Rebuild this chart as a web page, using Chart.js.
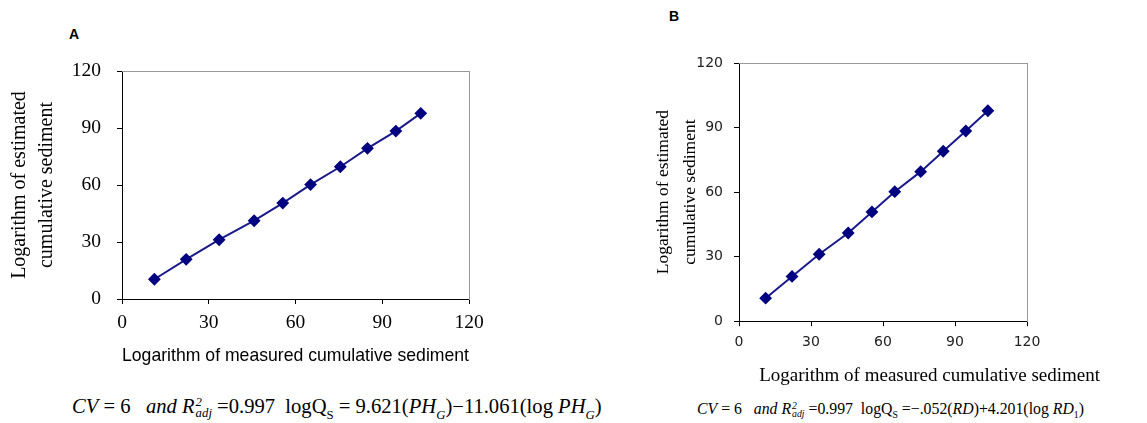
<!DOCTYPE html>
<html>
<head>
<meta charset="utf-8">
<script src="https://cdn.jsdelivr.net/npm/chart.js@4.4.0/dist/chart.umd.min.js"></script>
<style>
  body { margin: 0; background: #fff; width: 1147px; height: 423px; overflow: hidden; position: relative; }
  canvas { position: absolute; }
  #chartA { left: 0; top: 40px; }
  #chartB { left: 640px; top: 30px; }
  .panel { position: absolute; font: bold 14px "Liberation Sans", Arial, sans-serif; }
  .eq { position: absolute; font-family: "Liberation Serif", "Times New Roman", serif; white-space: nowrap; color: #000; }
  .eq i { font-style: italic; }
  .ss { display: inline-flex; flex-direction: column; vertical-align: middle; line-height: 0.9; font-size: 0.62em; margin-left: 1px; }
  .sb { font-size: 0.62em; position: relative; top: 0.45em; }
</style>
</head>
<body>
<div class="panel" style="left:69px; top:26px;">A</div>
<div class="panel" style="left:669px; top:8px;">B</div>
<canvas id="chartA" width="500" height="340"></canvas>
<canvas id="chartB" width="460" height="367"></canvas>

<div class="eq" style="left:72px; top:395px; font-size:20.6px;">
  <i>CV</i> = 6 &nbsp; <i>and R</i><span class="ss"><i>2</i><i>adj</i></span> =0.997 &nbsp;logQ<span class="sb">S</span> = 9.621(<i>PH</i><span class="sb"><i>G</i></span>)−11.061(log <i>PH</i><span class="sb"><i>G</i></span>)
</div>
<div class="eq" style="left:697px; top:400px; font-size:15.8px;">
  <i>CV</i> = 6 &nbsp; <i>and R</i><span class="ss"><i>2</i><i>adj</i></span> =0.997 &nbsp;logQ<span class="sb">S</span> =−.052(<i>RD</i>)+4.201(log <i>RD</i><span class="sb">1</span>)
</div>

<script>
const axisTicks = [0, 30, 60, 90, 120];

const measuredA = [11.2, 22.2, 33.6, 45.7, 55.6, 65.2, 75.5, 84.9, 94.7, 103.3];
const estimatedA = [10.4, 20.9, 31.2, 41.2, 50.5, 60.2, 69.6, 79.3, 88.4, 97.7];

const measuredB = [11.1, 22.1, 33.4, 45.5, 55.4, 64.9, 75.7, 85.1, 94.5, 103.7];
const estimatedB = [10.7, 20.8, 31.1, 41.0, 50.8, 60.2, 69.5, 79.0, 88.4, 97.8];

const xTitle = "Logarithm of measured cumulative sediment";
const yTitle = ["Logarithm of estimated", "cumulative sediment"];

const serif = "'Liberation Serif', 'Times New Roman', serif";
const sans = "'Liberation Sans', Arial, sans-serif";

function toPoints(xs, ys) {
  return xs.map((x, i) => ({ x: x, y: ys[i] }));
}

function lineSet(xs, ys) {
  return {
    data: toPoints(xs, ys),
    showLine: true,
    borderColor: "#1a1a8c",
    borderWidth: 2,
    pointStyle: "rectRot",
    pointRadius: 5,
    pointBackgroundColor: "#000080",
    pointBorderColor: "#000080"
  };
}

// fixed size for a scale box
function fitW(w) { return scale => { scale.width = w; }; }
function fitH(h) { return scale => { scale.height = h; }; }

function mainAxis(fontFamily, fontSize, color, pad) {
  return {
    type: "linear",
    min: 0,
    max: 120,
    afterBuildTicks: scale => { scale.ticks = axisTicks.map(v => ({ value: v })); },
    ticks: { font: { family: fontFamily, size: fontSize }, color: color, padding: pad },
    grid: { drawOnChartArea: false, tickLength: 5, color: "#000" },
    border: { color: "#000", width: 1 }
  };
}

function frameAxis(position, fit) {
  return {
    type: "linear",
    position: position,
    min: 0,
    max: 120,
    ticks: { display: false },
    grid: { display: false },
    border: { color: "#999", width: 1 },
    afterFit: fit
  };
}

// Chart A
const xA = mainAxis(serif, 19.5, "#000", 7);
xA.title = { display: true, text: xTitle, color: "#000", font: { family: sans, size: 19 }, padding: { top: 0, bottom: 13 } };
xA.afterFit = fitH(81);
const yA = mainAxis(serif, 19.5, "#000", 16);
yA.title = { display: true, text: yTitle, color: "#000", font: { family: serif, size: 20, lineHeight: 1.35 }, padding: { top: 6.5, bottom: 0 } };
yA.afterFit = fitW(122);

new Chart(document.getElementById("chartA"), {
  type: "scatter",
  data: { datasets: [lineSet(measuredA, estimatedA)] },
  options: {
    responsive: false,
    animation: false,
    devicePixelRatio: 1,
    layout: { padding: 0 },
    plugins: { legend: { display: false }, tooltip: { enabled: false } },
    scales: {
      x: xA,
      y: yA,
      x2: frameAxis("top", fitH(31)),
      y2: frameAxis("right", fitW(31))
    }
  }
});

// Chart B
const xB = mainAxis("'DejaVu Sans', sans-serif", 14, "#222", 8);
xB.afterFit = fitH(40);
const yB = mainAxis("'DejaVu Sans', sans-serif", 14, "#222", 11);
yB.title = { display: true, text: yTitle, color: "#000", font: { family: serif, size: 17.5, lineHeight: 1.54 }, padding: { top: 9.5, bottom: 0 } };
yB.afterFit = fitW(99);

new Chart(document.getElementById("chartB"), {
  type: "scatter",
  data: { datasets: [lineSet(measuredB, estimatedB)] },
  options: {
    responsive: false,
    animation: false,
    devicePixelRatio: 1,
    layout: { padding: 0 },
    plugins: {
      legend: { display: false },
      tooltip: { enabled: false },
      title: {
        display: true,
        position: "bottom",
        align: "end",
        text: xTitle,
        color: "#000",
        font: { family: serif, size: 19, weight: "normal" },
        padding: { top: 3, bottom: 10 }
      }
    },
    scales: {
      x: xB,
      y: yB,
      x2: frameAxis("top", fitH(33)),
      y2: frameAxis("right", fitW(73))
    }
  }
});
</script>
</body>
</html>
